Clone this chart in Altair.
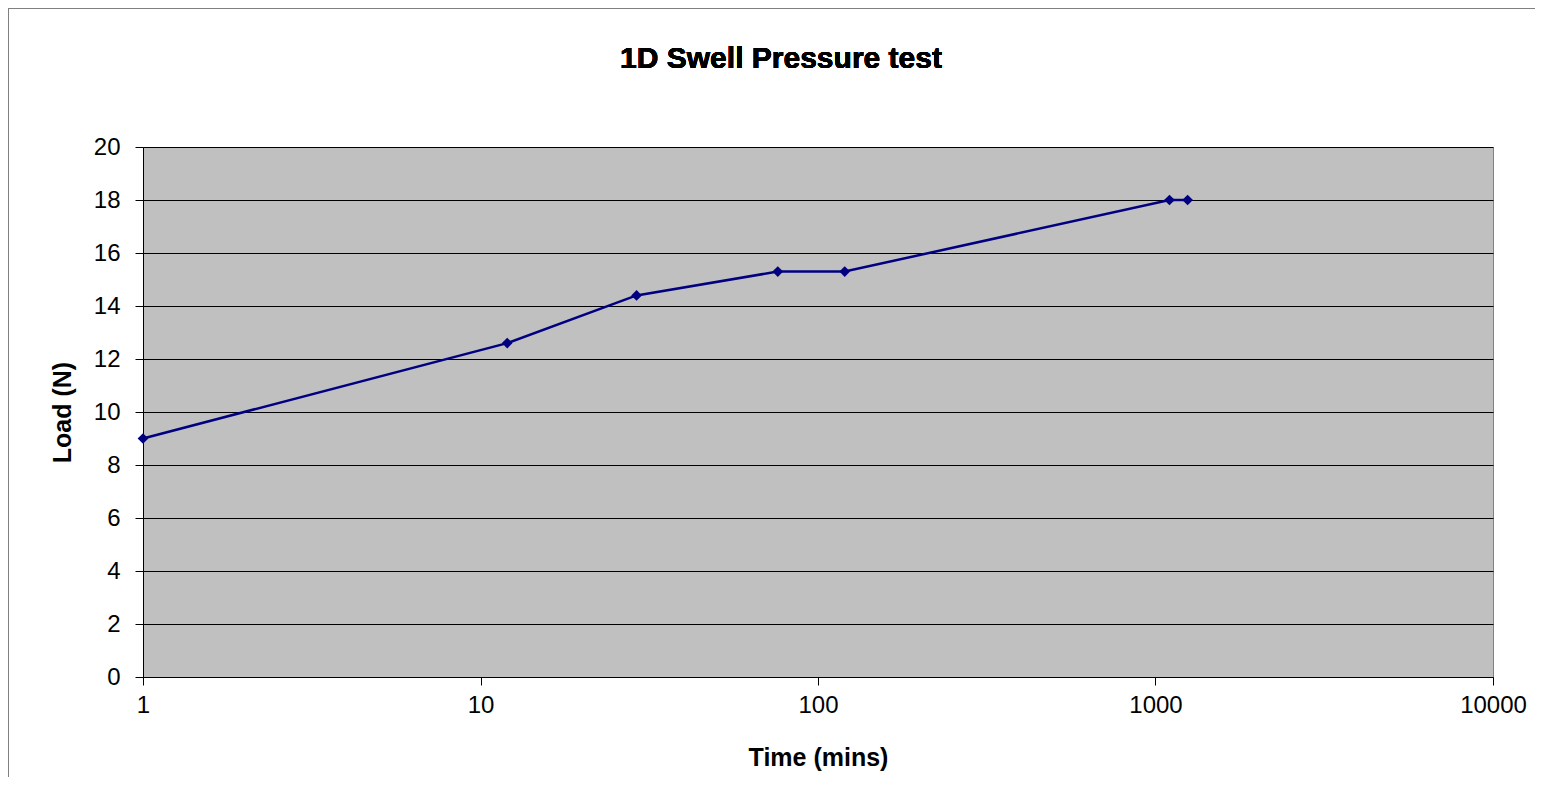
import altair as alt
import pandas as pd

time_mins = [1, 12, 29, 76, 120, 1100, 1245]
load_n = [9.0, 12.6, 14.4, 15.3, 15.3, 18.0, 18.0]
x_ticks = [1, 10, 100, 1000, 10000]
y_ticks = [0, 2, 4, 6, 8, 10, 12, 14, 16, 18, 20]
chart_title = "1D Swell Pressure test"

df = pd.DataFrame({"Time": time_mins, "Load": load_n})

FONT = "Liberation Sans"
NAVY = "#000080"

x_enc = alt.X(
    "Time:Q",
    scale=alt.Scale(type="log", domain=[1, 10000], nice=False),
    axis=alt.Axis(
        values=x_ticks, format="d", title="Time (mins)", grid=False,
        domainColor="black", tickColor="black", tickSize=8,
        labelFontSize=24, labelColor="black", labelPadding=8, labelFont=FONT,
        titleFontSize=25, titleFont=FONT, titleFontWeight="bold", titleColor="black",
        titlePadding=28, labelFlush=False, labelOverlap=False,
    ),
)
y_enc = alt.Y(
    "Load:Q",
    scale=alt.Scale(domain=[0, 20], nice=False),
    axis=alt.Axis(
        values=y_ticks, title="Load (N)", grid=True, gridColor="black", gridWidth=1,
        domainColor="black", tickColor="black", tickSize=8,
        labelFontSize=24, labelColor="black", labelPadding=15, labelFont=FONT,
        titleFontSize=25, titleFont=FONT, titleFontWeight="bold", titleColor="black",
        titlePadding=18,
    ),
)

frame = alt.Chart(df).mark_rect(
    fill="white", fillOpacity=0, stroke="#808080", strokeWidth=1, clip=False
).encode(
    x=alt.value(-135), x2=alt.value(1440), y=alt.value(-139), y2=alt.value(720)
)

title_txt = alt.Chart(df).mark_text(
    font=FONT, fontSize=30, fontWeight="bold", color="black",
    align="center", baseline="alphabetic", clip=False,
).encode(x=alt.value(638), y=alt.value(-79), text=alt.value(chart_title))

line = alt.Chart(df).mark_line(color=NAVY, strokeWidth=2.5).encode(x=x_enc, y=y_enc)
pts = alt.Chart(df).mark_point(shape="diamond", filled=True, color=NAVY, size=115, opacity=1).encode(
    x="Time:Q", y="Load:Q"
)

chart = (
    alt.layer(frame, title_txt, line, pts)
    .properties(
        width=1350,
        height=530,
        padding={"left": 135, "top": 139, "right": 42, "bottom": 100},
        autosize=alt.AutoSizeParams(type="none"),
    )
    .configure(background="white")
    .configure_view(fill="#C0C0C0", stroke="#808080", strokeWidth=1)
)

chart.save("out.html", embed_options={"renderer": "svg", "actions": False})
